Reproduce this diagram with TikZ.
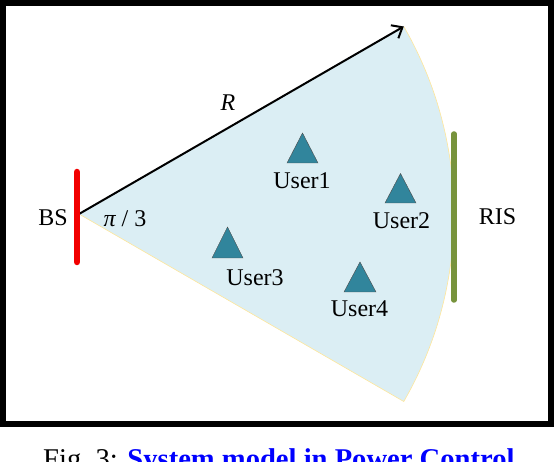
\documentclass[tikz,border=0pt]{standalone}
\usepackage{fontspec}
\setmainfont{Liberation Serif}
\usetikzlibrary{arrows.meta,calc}
\definecolor{sectorfill}{HTML}{DBEEF4}
\definecolor{sectoredge}{HTML}{FFE699}
\definecolor{usercol}{HTML}{31859C}
\definecolor{riscol}{HTML}{77933C}
\definecolor{bscol}{HTML}{F20000}
\tikzset{
  lbl/.style={font=\fontsize{24}{28}\selectfont, inner sep=0pt},
  usertri/.style={fill=usercol, draw=black!70, line width=0.4pt},
}
\begin{document}
\begin{tikzpicture}[x=1pt,y=-1pt]
\useasboundingbox (0,0) rectangle (554,462);
% border
\draw[line width=6pt] (3,3) rectangle (551,424);
% sector
\coordinate (apex) at (79,214);
\coordinate (tip) at ($(apex)+(-30:375)$);
\fill[sectorfill] (apex) -- ++(-30:375) arc[start angle=-30, end angle=30, radius=375] -- cycle;
\draw[sectoredge, line width=0.6pt] (apex) ++(30:2) -- ++(30:373) arc[start angle=30, end angle=-30, radius=375];
% arrow R
\draw[line width=2pt, -{Straight Barb[length=9pt,width=15pt,line width=2pt]}] (apex) -- (tip);
\node[lbl, font=\fontsize{24}{28}\selectfont\itshape] (R) at (228,103) {R};
% BS
\coordinate (bstop) at (77,172);
\coordinate (bsbot) at (77,262);
\draw[bscol, line width=6.5pt, line cap=round] (bstop) -- (bsbot);
\node[lbl] (BS) at (53,218) {BS};
\node[lbl] (angle) at (125,219) {{\itshape π} / 3};
% RIS
\coordinate (ristop) at (454,134);
\coordinate (risbot) at (454,300);
\draw[riscol, line width=5.5pt, line cap=round] (ristop) -- (risbot);
\node[lbl] (RIS) at (497.5,217) {RIS};
% users
\draw[usertri] (302.5,133) coordinate (u1) -- (287,163) -- (318,163) -- cycle;
\node[lbl] (U1) at (302,181) {User1};
\draw[usertri] (400.5,173.5) coordinate (u2) -- (385,203) -- (416,203) -- cycle;
\node[lbl] (U2) at (401.5,221) {User2};
\draw[usertri] (227.5,227) coordinate (u3) -- (212,258) -- (243,258) -- cycle;
\node[lbl] (U3) at (255,278) {User3};
\draw[usertri] (360,262) coordinate (u4) -- (344,292) -- (376,292) -- cycle;
\node[lbl] (U4) at (359.5,309) {User4};
% caption
\node[anchor=base west, inner sep=0pt, font=\fontsize{28.6}{32}\selectfont] (cap) at (43,468) {Fig.~3: \textcolor{blue}{\bfseries System model in Power Control}};
\end{tikzpicture}
\end{document}
